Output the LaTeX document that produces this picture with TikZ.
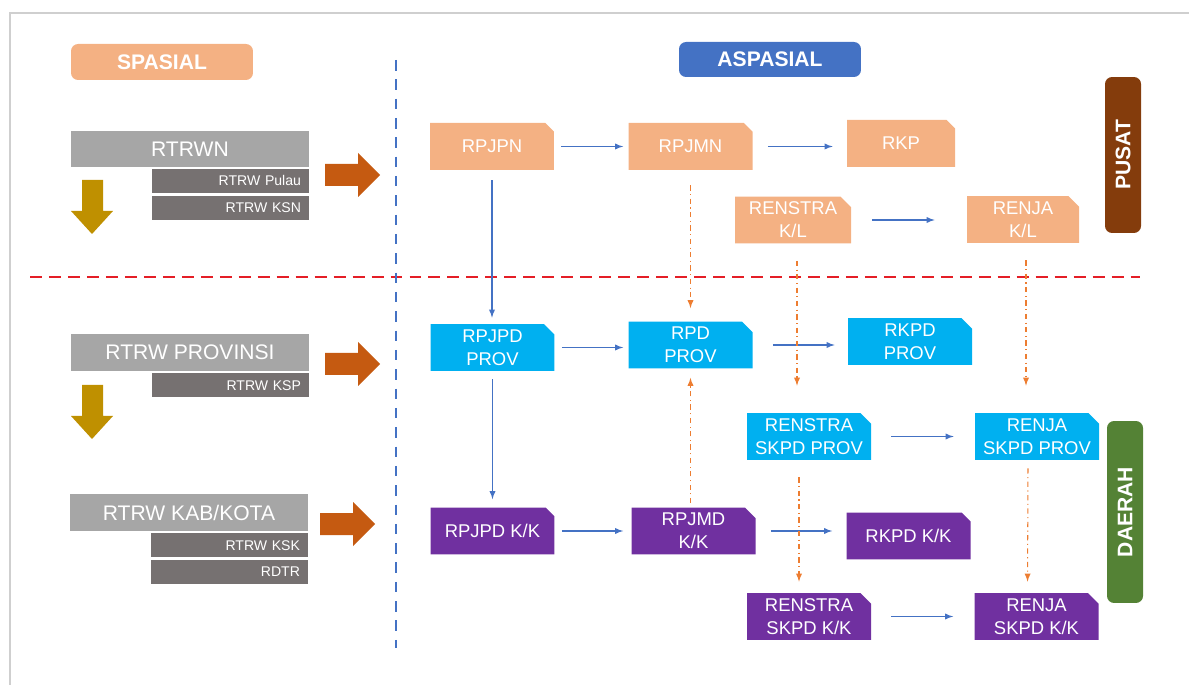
\documentclass[tikz,border=0pt]{standalone}
\usepackage{fontspec}
\setmainfont{Liberation Sans}
\usepackage{xcolor}
\usepackage{tikz}
\usetikzlibrary{shapes,arrows,positioning}

\definecolor{docpeach}{HTML}{F4B183}
\definecolor{headblue}{HTML}{4472C4}
\definecolor{docblue}{HTML}{00B0F0}
\definecolor{docpurple}{HTML}{7030A0}
\definecolor{pusatbrown}{HTML}{843C0C}
\definecolor{daerahgreen}{HTML}{548235}
\definecolor{planfill}{HTML}{A6A6A6}
\definecolor{subfill}{HTML}{767171}
\definecolor{downgold}{HTML}{BF9000}
\definecolor{blockorange}{HTML}{C55A11}
\definecolor{linkorange}{HTML}{ED7D31}
\definecolor{redline}{HTML}{E41E26}
\definecolor{framegray}{HTML}{CFCFCF}

\begin{document}
\begin{tikzpicture}[
    x=0.02cm, y=-0.02cm,
    head/.style={rectangle, rounded corners=4pt, minimum width=3.64cm, minimum height=0.72cm, text=white, font=\fontsize{12}{14}\selectfont\bfseries},
    plan/.style={rectangle, fill=planfill, minimum width=4.76cm, minimum height=0.73cm, text=white, font=\fontsize{12}{14}\selectfont},
    sub/.style={rectangle, fill=subfill, minimum width=3.14cm, minimum height=0.48cm, inner xsep=0.16cm, text width=2.82cm, align=right, text=white, font=\fontsize{8}{10}\selectfont},
    doc/.style={chamfered rectangle, chamfered rectangle corners=north east, chamfered rectangle xsep=3pt, chamfered rectangle ysep=3pt, minimum width=2.48cm, minimum height=0.94cm, inner xsep=1pt, inner ysep=-1.8pt, align=center, text=white, font=\fontsize{10.5}{13}\selectfont},
    side/.style={rectangle, rounded corners=4pt, rotate=90, minimum height=0.72cm, text=white, font=\fontsize{12}{14}\selectfont\bfseries},
    flow/.style={->, >=latex, draw=headblue, line width=0.6pt, shorten <=0.14cm, shorten >=0.1cm},
    wide/.style={shorten <=0.3cm, shorten >=0.28cm},
    link/.style={->, >=latex, draw=linkorange, line width=0.6pt, dash dot}
]
    \useasboundingbox (0,0) rectangle (1189,685);
    \draw[framegray, line width=1pt] (10,685) -- (10,13) -- (1189,13);

    % dividers
    \draw[redline, line width=1.7pt, dash pattern=on 6.8pt off 4pt] (30,277) -- (1140,277);
    \draw[headblue, line width=1.2pt, dash pattern=on 6pt off 5pt] (396,60) -- (396,648);

    \node[head, fill=docpeach] (spasial) at (162,62) {SPASIAL};
    \node[head, fill=headblue, minimum height=0.7cm] (aspasial) at (770,59.5) {ASPASIAL};

    % spasial side
    \node[plan] (rtrwn) at (190,149) {RTRWN};
    \node[sub, below=0.02cm of rtrwn.south east, anchor=north east] (pulau) {RTRW Pulau};
    \node[sub, below=0.04cm of pulau] (ksn) {RTRW KSN};

    \node[plan] (rtrwprov) at (190,352.5) {RTRW PROVINSI};
    \node[sub, below=0.04cm of rtrwprov.south east, anchor=north east] (ksp) {RTRW KSP};

    \node[plan] (rtrwkab) at (189,512.5) {RTRW KAB/KOTA};
    \node[sub, below=0.04cm of rtrwkab.south east, anchor=north east] (ksk) {RTRW KSK};
    \node[sub, below=0.04cm of ksk] (rdtr) {RDTR};

    \foreach \x/\y in {325/175, 325/364, 320/524}
        \fill[blockorange] (\x,\y-11) -- (\x+33,\y-11) -- (\x+33,\y-22) -- (\x+55,\y) -- (\x+33,\y+22) -- (\x+33,\y+11) -- (\x,\y+11) -- cycle;
    \foreach \y in {180,385}
        \fill[downgold] (82,\y) -- (103,\y) -- (103,\y+31) -- (113,\y+31) -- (92,\y+54) -- (71,\y+31) -- (82,\y+31) -- cycle;

    % aspasial side
    \node[doc, fill=docpeach] (rpjpn) at (492,146.5) {RPJPN};
    \node[doc, fill=docpeach] (rpjmn) at (690.5,146.5) {RPJMN};
    \node[doc, fill=docpeach, minimum width=2.16cm] (rkp) at (901,143.5) {RKP};
    \node[doc, fill=docpeach, minimum width=2.32cm] (renstrakl) at (793,220) {RENSTRA\\K/L};
    \node[doc, fill=docpeach, minimum width=2.24cm] (renjakl) at (1023,219.5) {RENJA\\K/L};

    \node[doc, fill=docblue] (rpjpdprov) at (492.5,347.5) {RPJPD\\PROV};
    \node[doc, fill=docblue] (rpdprov) at (690.5,345) {RPD\\PROV};
    \node[doc, fill=docblue] (rkpdprov) at (910,341.5) {RKPD\\PROV};
    \node[doc, fill=docblue] (renstraprov) at (809,436.5) {RENSTRA\\SKPD PROV};
    \node[doc, fill=docblue] (renjaprov) at (1037,436.5) {RENJA\\SKPD PROV};

    \node[doc, fill=docpurple] (rpjpdkk) at (492.5,531) {RPJPD K/K};
    \node[doc, fill=docpurple] (rpjmdkk) at (693.5,531) {RPJMD\\K/K};
    \node[doc, fill=docpurple] (rkpdkk) at (908.5,536) {RKPD K/K};
    \node[doc, fill=docpurple] (renstrakk) at (809,616.5) {RENSTRA\\SKPD K/K};
    \node[doc, fill=docpurple] (renjakk) at (1036.5,616.5) {RENJA\\SKPD K/K};

    \node[side, fill=pusatbrown, minimum width=3.12cm] (pusat) at (1123,155) {PUSAT};
    \node[side, fill=daerahgreen, minimum width=3.64cm] (daerah) at (1125,512) {DAERAH};

    % blue flows
    \draw[flow] (rpjpn.east) -- (rpjpn.east -| rpjmn.west);
    \draw[flow, wide] (rpjmn.east) -- (rpjmn.east -| rkp.west);
    \draw[flow, shorten <=0.42cm, shorten >=0.64cm] (renstrakl.east) -- (renstrakl.east -| renjakl.west);
    \draw[flow, shorten <=0.2cm, shorten >=0.12cm] (rpjpn.south) -- (rpjpn.south |- rpjpdprov.north);
    \draw[flow] (rpjpdprov.east) -- (rpjpdprov.east -| rpdprov.west);
    \draw[flow, shorten <=0.4cm, shorten >=0.26cm] (rpdprov.east) -- (rpdprov.east -| rkpdprov.west);
    \draw[flow, shorten <=0.4cm, shorten >=0.42cm] (renstraprov.east) -- (renjaprov.west);
    \draw[flow, shorten <=0.16cm, shorten >=0.16cm] (rpjpdprov.south) -- (rpjpdprov.south |- rpjpdkk.north);
    \draw[flow, shorten >=0.16cm] (rpjpdkk.east) -- (rpjmdkk.west);
    \draw[flow, wide] (rpjmdkk.east) -- (rpjmdkk.east -| rkpdkk.west);
    \draw[flow, shorten <=0.4cm, shorten >=0.42cm] (renstrakk.east) -- (renjakk.west);

    % orange links
    \draw[link, shorten <=0.3cm, shorten >=0.26cm] (rpjmn.south) -- (rpjmn.south |- rpdprov.north);
    \draw[link, shorten <=0.08cm, shorten >=0.18cm] (rpjmdkk.north -| rpdprov.south) -- (rpdprov.south);
    \draw[link, shorten <=0.34cm, shorten >=0.54cm] ([xshift=0.08cm]renstrakl.south) -- ([xshift=0.08cm]renstrakl.south |- renstraprov.north);
    \draw[link, shorten <=0.34cm, shorten >=0.54cm] ([xshift=0.06cm]renjakl.south) -- ([xshift=0.06cm]renjakl.south |- renjaprov.north);
    \draw[link, shorten <=0.34cm, shorten >=0.22cm] ([xshift=-0.2cm]renstraprov.south) -- ([xshift=-0.2cm]renstrakk.north);
    \draw[link, shorten <=0.16cm, shorten >=0.22cm] ([xshift=-0.18cm]renjaprov.south) -- ([xshift=-0.18cm]renjakk.north);
\end{tikzpicture}
\end{document}
